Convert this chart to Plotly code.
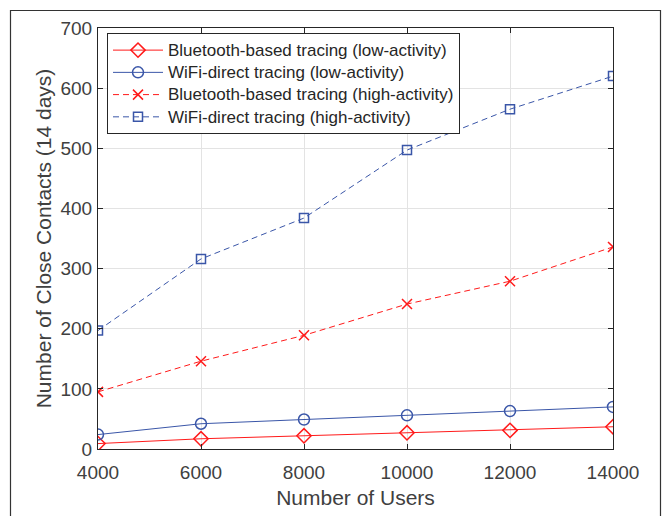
import plotly.graph_objects as go

users = [4000, 6000, 8000, 10000, 12000, 14000]
bt_low = [9, 17, 22, 27, 31, 37]
wifi_low = [24, 42, 49, 56, 63, 70]
bt_high = [95, 146, 189, 241, 279, 336]
wifi_high = [197, 316, 384, 497, 565, 620]
y_ticks = [0, 100, 200, 300, 400, 500, 600, 700]

names = [
    "Bluetooth-based tracing (low-activity)",
    "WiFi-direct tracing (low-activity)",
    "Bluetooth-based tracing (high-activity)",
    "WiFi-direct tracing (high-activity)",
]

RED = "#FF1A1A"
BLUE = "#3A56A8"

fig = go.Figure()
series = [
    (bt_low, names[0], RED, "solid", "diamond-open", 11),
    (wifi_low, names[1], BLUE, "solid", "circle-open", 11),
    (bt_high, names[2], RED, "6px,4px", "x-thin-open", 10),
    (wifi_high, names[3], BLUE, "6px,4px", "square-open", 9),
]
for ys, nm, col, dash, sym, sz in series:
    fig.add_trace(go.Scatter(
        x=users, y=ys, name='<span style="font-size:17px">' + nm + '</span>',
        mode="lines+markers",
        line=dict(color=col, width=1, dash=dash),
        marker=dict(symbol=sym, size=sz, color=col, line=dict(color=col, width=1.5)),
    ))

L, R, T, B = 98, 52, 28, 67
W, H = 665, 516
pw, ph = W - L - R, H - T - B

fig.update_layout(
    width=W, height=H,
    margin=dict(l=L, r=R, t=T, b=B),
    paper_bgcolor="white", plot_bgcolor="white",
    font=dict(family="Liberation Sans, Arial, sans-serif", color="#404040", size=19),
    showlegend=True,
    legend=dict(
        x=(107 - L) / pw, y=(H - B - 33) / ph, xanchor="left", yanchor="top",
        bgcolor="white", bordercolor="#262626", borderwidth=1,
        font=dict(size=14.8, color="#262626"),
        tracegroupgap=0, itemwidth=50,
    ),
    shapes=[dict(
        type="rect", xref="paper", yref="paper",
        x0=(10.5 - L) / pw, x1=(660.5 - L) / pw,
        y0=(H - B - 530) / ph, y1=(H - B - 10.5) / ph,
        line=dict(color="#333333", width=1.2), fillcolor="rgba(0,0,0,0)", layer="below",
    )],
)

fig.update_xaxes(
    range=[4000, 14000], tickvals=users, ticktext=[str(u) for u in users],
    showgrid=True, gridcolor="#E3E3E3", gridwidth=1,
    showline=True, linecolor="#262626", linewidth=1, mirror="ticks",
    ticks="inside", ticklen=5, tickcolor="#262626",
    ticklabelstandoff=6,
    zeroline=False,
    title=dict(text="Number of Users", font=dict(size=21, color="#404040"), standoff=8),
)
fig.update_yaxes(
    range=[0, 700], tickvals=y_ticks,
    showgrid=True, gridcolor="#E3E3E3", gridwidth=1,
    showline=True, linecolor="#262626", linewidth=1, mirror="ticks",
    ticks="inside", ticklen=5, tickcolor="#262626",
    ticklabelstandoff=1,
    zeroline=False,
    title=dict(text="Number of Close Contacts (14 days)", font=dict(size=21, color="#404040"), standoff=3),
)

fig.write_html(
    "out.html",
    config={"displayModeBar": False},
    post_script="document.body.style.margin='0';document.body.style.overflow='hidden';",
)
